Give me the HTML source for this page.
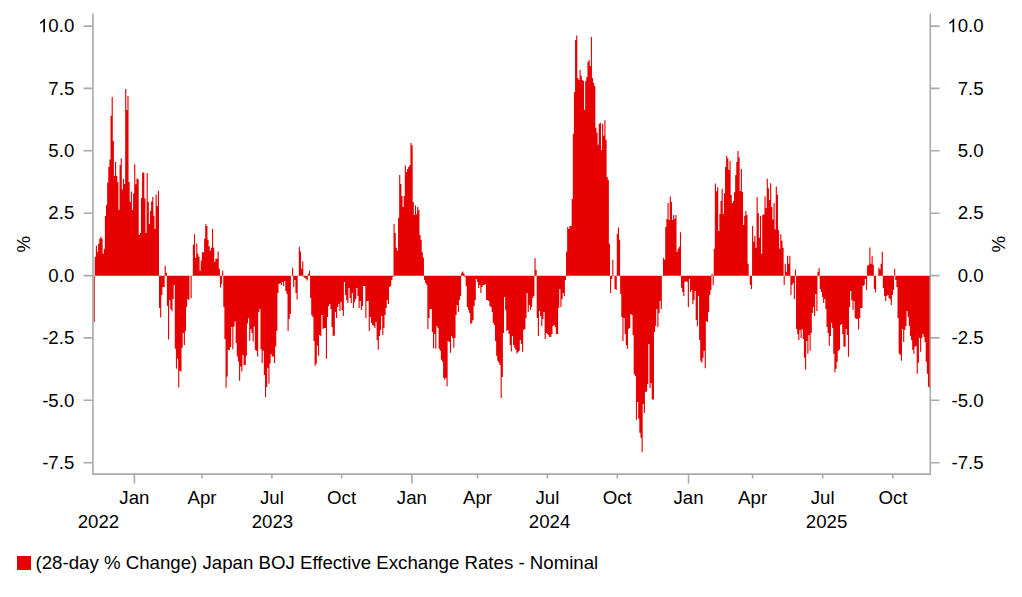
<!DOCTYPE html><html><head><meta charset="utf-8"><style>html,body{margin:0;padding:0;background:#fff}svg{display:block}text{font-family:"Liberation Sans",sans-serif;font-size:18.67px;fill:#000}</style></head><body>
<svg width="1022" height="597" viewBox="0 0 1022 597">
<rect width="1022" height="597" fill="#fff"/>
<path fill="#e60000" d="M93.60 275.7V321.9H94.73V256.8H95.85V245.8H96.98V251.8H98.11V243.8H99.24V238.8H100.36V236.8H101.49V238.8H102.62V253.8H103.75V248.8H104.88V215.9H106.00V205.0H107.13V182.5H108.26V167.0H109.38V159.5H110.51V115.8H111.64V97.0H112.77V141.0H113.89V176.0H115.02V162.0H116.15V175.7H117.28V182.0H118.41V210.0H119.53V165.0H120.66V158.3H121.79V189.5H122.91V179.0H124.04V184.0H125.17V89.0H126.30V110.0H127.42V96.0H128.55V182.0H129.68V202.0H130.81V191.5H131.94V210.0H133.06V193.6H134.19V164.3H135.32V184.3H136.44V178.6H137.57V179.3H138.70V234.9H139.83V232.9H140.95V197.9H142.08V172.6H143.21V172.6H144.34V198.6H145.46V232.9H146.59V172.9H147.72V202.0H148.85V223.9H149.97V211.0H151.10V201.4H152.23V197.0H153.36V215.9H154.48V228.9H155.61V194.5H156.74V206.0H157.87V190.8H159.00V307.9H160.12V317.5H161.25V295.0H162.38V287.0H163.50V287.0H164.63V265.8H165.76V272.8H166.89V305.9H168.01V339.5H169.14V299.9H170.27V308.9H171.40V310.9H172.52V298.9H173.65V285.0H174.78V348.8H175.91V368.8H177.03V358.8H178.16V387.4H179.29V370.8H180.42V371.4H181.54V347.8H182.67V332.9H183.80V344.9H184.93V330.9H186.06V306.9H187.18V298.9H188.31V299.9H189.44V275.6H190.56V298.3H191.69V275.6H192.82V244.8H193.95V234.3H195.07V257.8H196.20V243.4H197.33V253.8H198.46V256.8H199.58V270.8H200.71V260.8H201.84V252.2H202.97V252.2H204.09V238.8H205.22V224.3H206.35V225.9H207.48V239.8H208.60V246.2H209.73V250.8H210.86V247.8H211.99V228.9H213.12V247.8H214.24V261.8H215.37V258.8H216.50V258.8H217.62V251.4H218.75V268.8H219.88V287.5H221.01V284.0H222.13V270.8H223.26V306.9H224.39V338.9H225.52V387.8H226.64V376.4H227.77V350.0H228.90V350.0H230.03V347.0H231.16V327.0H232.28V349.3H233.41V326.4H234.54V321.4H235.66V342.9H236.79V356.4H237.92V361.4H239.05V380.7H240.17V366.4H241.30V371.4H242.43V355.0H243.56V365.0H244.68V365.0H245.81V355.7H246.94V323.6H248.07V318.0H249.19V340.7H250.32V329.3H251.45V332.9H252.58V341.4H253.70V326.4H254.83V350.0H255.96V350.7H257.09V356.4H258.21V312.0H259.34V309.0H260.47V349.3H261.60V362.9H262.73V350.7H263.85V375.0H264.98V397.1H266.11V387.1H267.24V367.9H268.36V383.6H269.49V363.6H270.62V354.3H271.75V356.4H272.87V356.4H274.00V362.9H275.13V346.4H276.25V330.7H277.38V293.0H278.51V284.0H279.64V283.0H280.76V285.0H281.89V282.0H283.02V286.0H284.15V281.0H285.27V291.0H286.40V294.0H287.53V330.9H288.66V318.9H289.78V313.9H290.91V275.6H292.04V267.8H293.17V287.0H294.29V280.0H295.42V293.0H296.55V299.5H297.68V276.0H298.80V246.8H299.93V251.4H301.06V268.8H302.19V261.4H303.31V277.0H304.44V278.0H305.57V279.0H306.70V280.4H307.82V273.8H308.95V270.8H310.08V297.9H311.21V314.9H312.33V316.9H313.46V340.9H314.59V365.8H315.72V363.8H316.84V345.8H317.97V355.8H319.10V334.9H320.23V335.9H321.36V314.9H322.48V328.9H323.61V327.9H324.74V327.9H325.87V358.8H326.99V316.9H328.12V305.9H329.25V303.9H330.38V308.9H331.50V326.9H332.63V335.9H333.76V335.5H334.88V311.9H336.01V317.9H337.14V306.9H338.27V303.9H339.39V310.9H340.52V301.9H341.65V309.9H342.78V315.9H343.90V282.0H345.03V295.0H346.16V299.9H347.29V302.9H348.41V288.0H349.54V297.9H350.67V302.9H351.80V293.0H352.92V307.9H354.05V301.9H355.18V298.9H356.31V288.0H357.43V295.9H358.56V307.9H359.69V300.9H360.82V309.9H361.94V305.9H363.07V286.0H364.20V286.0H365.33V317.9H366.45V300.9H367.58V300.9H368.71V330.9H369.84V316.9H370.97V322.9H372.09V324.9H373.22V325.9H374.35V327.9H375.48V321.9H376.60V339.9H377.73V349.8H378.86V335.9H379.99V329.9H381.11V315.9H382.24V334.9H383.37V327.9H384.50V314.9H385.62V307.9H386.75V299.9H387.88V303.9H389.00V287.0H390.13V286.0H391.26V280.0H392.39V277.0H393.51V223.9H394.64V232.9H395.77V247.8H396.90V250.8H398.02V217.9H399.15V175.0H400.28V184.0H401.41V195.9H402.53V206.9H403.66V195.9H404.79V165.6H405.92V172.0H407.04V169.0H408.17V167.0H409.30V165.0H410.43V142.9H411.55V145.3H412.68V201.9H413.81V214.9H414.94V205.5H416.06V214.3H417.19V206.9H418.32V209.9H419.45V234.9H420.57V239.8H421.70V252.2H422.83V257.8H423.96V280.0H425.08V283.0H426.21V285.0H427.34V328.9H428.47V317.9H429.60V308.9H430.72V308.9H431.85V331.9H432.98V348.2H434.11V333.9H435.23V348.8H436.36V325.9H437.49V327.9H438.62V348.8H439.74V350.8H440.87V359.8H442.00V361.8H443.12V377.8H444.25V379.8H445.38V377.8H446.51V386.2H447.63V340.9H448.76V341.9H449.89V352.8H451.02V335.9H452.14V337.9H453.27V347.8H454.40V337.9H455.53V314.9H456.65V304.9H457.78V311.9H458.91V299.9H460.04V295.9H461.16V272.8H462.29V271.4H463.42V273.8H464.55V277.0H465.67V286.0H466.80V306.9H467.93V309.9H469.06V312.9H470.18V323.9H471.31V322.9H472.44V319.9H473.57V305.9H474.69V299.9H475.82V279.0H476.95V282.0H478.08V288.0H479.20V285.0H480.33V293.0H481.46V287.0H482.59V285.0H483.72V285.0H484.84V284.0H485.97V299.9H487.10V299.9H488.23V300.9H489.35V305.9H490.48V306.9H491.61V311.9H492.74V322.9H493.86V324.9H494.99V340.9H496.12V355.8H497.25V360.8H498.37V362.8H499.50V365.0H500.63V397.9H501.75V376.9H502.88V332.9H504.01V297.0H505.14V310.0H506.26V330.9H507.39V329.9H508.52V333.9H509.65V344.9H510.77V351.4H511.90V335.9H513.03V344.9H514.16V347.8H515.28V349.8H516.41V353.4H517.54V352.2H518.67V350.8H519.79V339.9H520.92V343.9H522.05V351.8H523.18V329.9H524.30V328.9H525.43V317.9H526.56V293.0H527.69V311.9H528.81V304.9H529.94V309.9H531.07V306.9H532.20V297.9H533.32V295.9H534.45V258.2H535.58V270.0H536.71V317.9H537.83V335.9H538.96V310.9H540.09V315.9H541.22V325.9H542.35V318.9H543.47V311.9H544.60V338.9H545.73V332.9H546.86V333.9H547.98V334.9H549.11V336.9H550.24V336.9H551.37V333.9H552.49V325.9H553.62V324.9H554.75V326.9H555.88V333.9H557.00V333.9H558.13V307.9H559.26V289.0H560.38V306.9H561.51V298.9H562.64V293.0H563.77V295.9H564.89V280.0H566.02V251.8H567.15V226.9H568.28V228.9H569.40V225.9H570.53V225.9H571.66V198.9H572.79V133.8H573.91V91.9H575.04V40.0H576.17V35.6H577.30V77.9H578.42V79.9H579.55V70.0H580.68V75.7H581.81V80.0H582.93V80.9H584.06V109.8H585.19V80.9H586.32V76.9H587.44V61.9H588.57V59.9H589.70V66.0H590.83V37.0H591.95V77.9H593.08V82.9H594.21V85.9H595.34V127.8H596.46V132.8H597.59V144.8H598.72V123.8H599.85V122.8H600.98V150.0H602.10V123.8H603.23V135.8H604.36V120.2H605.49V139.8H606.61V177.0H607.74V180.0H608.87V243.8H610.00V293.0H611.12V279.0H612.25V259.8H613.38V275.6H614.50V289.0H615.63V290.0H616.76V233.9H617.89V227.5H619.01V239.8H620.14V294.0H621.27V316.9H622.40V340.9H623.52V317.9H624.65V333.9H625.78V344.9H626.91V348.8H628.03V328.9H629.16V327.9H630.29V313.9H631.42V314.9H632.54V334.9H633.67V373.9H634.80V375.9H635.93V419.8H637.05V401.9H638.18V418.8H639.31V432.8H640.44V437.8H641.56V452.2H642.69V403.9H643.82V412.9H644.95V391.9H646.08V391.5H647.20V383.9H648.33V343.9H649.46V387.9H650.59V382.9H651.71V399.5H652.84V399.5H653.97V331.9H655.10V325.9H656.22V308.9H657.35V326.9H658.48V312.9H659.61V300.9H660.73V308.9H661.86V276.0H662.99V257.8H664.12V259.8H665.24V226.9H666.37V218.9H667.50V202.9H668.62V219.9H669.75V196.5H670.88V201.9H672.01V219.9H673.13V214.9H674.26V218.9H675.39V214.9H676.52V251.8H677.64V248.8H678.77V246.8H679.90V232.3H681.03V288.0H682.15V292.0H683.28V295.9H684.41V282.0H685.54V281.0H686.66V282.0H687.79V306.9H688.92V279.0H690.05V292.0H691.17V290.0H692.30V303.9H693.43V299.9H694.56V291.0H695.68V319.9H696.81V325.9H697.94V296.0H699.07V339.9H700.20V360.8H701.32V362.8H702.45V357.8H703.58V350.8H704.71V368.2H705.83V320.9H706.96V321.9H708.09V311.9H709.22V295.0H710.34V290.0H711.47V274.0H712.60V285.0H713.73V248.8H714.85V183.4H715.98V191.3H717.11V187.2H718.24V230.9H719.36V213.9H720.49V200.9H721.62V189.0H722.75V213.9H723.87V193.3H725.00V167.1H726.13V156.1H727.25V158.6H728.38V170.0H729.51V161.1H730.64V195.0H731.76V202.9H732.89V200.9H734.02V192.3H735.15V175.2H736.27V162.1H737.40V150.9H738.53V157.3H739.66V190.9H740.78V168.9H741.91V192.0H743.04V224.9H744.17V215.9H745.29V210.9H746.42V214.9H747.55V263.8H748.68V275.6H749.80V285.0H750.93V289.0H752.06V225.9H753.19V241.8H754.31V235.8H755.44V247.8H756.57V196.9H757.70V212.9H758.83V237.8H759.95V215.9H761.08V253.8H762.21V214.9H763.34V214.3H764.46V196.3H765.59V207.9H766.72V178.7H767.85V188.2H768.97V199.9H770.10V183.2H771.23V206.9H772.36V219.5H773.48V202.9H774.61V229.5H775.74V186.4H776.87V194.8H777.99V229.9H779.12V248.8H780.25V234.3H781.38V240.8H782.50V247.8H783.63V285.0H784.76V263.8H785.88V271.8H787.01V255.8H788.14V263.8H789.27V255.8H790.39V295.0H791.52V285.0H792.65V283.0H793.78V298.9H794.90V269.4H796.03V328.9H797.16V333.9H798.29V339.9H799.41V329.9H800.54V337.9H801.67V328.9H802.80V338.9H803.92V357.8H805.05V369.8H806.18V340.9H807.31V353.8H808.43V334.9H809.56V350.8H810.69V332.9H811.82V312.9H812.94V306.9H814.07V315.9H815.20V294.0H816.33V310.9H817.46V271.8H818.58V268.2H819.71V289.0H820.84V292.0H821.97V296.9H823.09V302.9H824.22V298.9H825.35V308.9H826.48V326.9H827.60V332.9H828.73V345.8H829.86V335.9H830.99V322.9H832.11V327.9H833.24V353.8H834.37V372.2H835.50V368.8H836.62V361.8H837.75V350.8H838.88V349.8H840.00V324.9H841.13V323.9H842.26V333.9H843.39V346.8H844.51V346.8H845.64V328.9H846.77V334.9H847.90V356.8H849.02V306.9H850.15V291.0H851.28V299.9H852.41V309.9H853.53V300.9H854.66V317.9H855.79V318.9H856.92V318.9H858.04V329.5H859.17V317.9H860.30V307.9H861.43V307.9H862.55V286.0H863.68V285.0H864.81V279.0H865.94V290.0H867.06V265.8H868.19V264.8H869.32V247.4H870.45V263.8H871.57V256.2H872.70V264.8H873.83V289.0H874.96V292.4H876.09V275.6H877.21V275.6H878.34V267.8H879.47V269.4H880.60V263.8H881.72V251.8H882.85V288.0H883.98V296.0H885.11V300.9H886.23V295.9H887.36V295.0H888.49V297.9H889.62V299.5H890.74V304.9H891.87V295.0H893.00V290.0H894.12V268.8H895.25V280.0H896.38V287.0H897.51V317.9H898.63V353.8H899.76V354.8H900.89V360.8H902.02V328.9H903.14V341.9H904.27V329.9H905.40V325.9H906.53V310.9H907.65V316.9H908.78V325.9H909.91V335.9H911.04V339.9H912.16V349.8H913.29V353.8H914.42V346.8H915.55V345.8H916.67V373.8H917.80V362.8H918.93V337.9H920.06V351.8H921.18V337.9H922.31V333.9H923.44V336.9H924.57V341.9H925.69V361.8H926.82V373.8H927.95V386.8H929.08V387.8H930.00V275.7z"/>
<g stroke="#aaaaaa" stroke-width="1.6" fill="none">
<path d="M92.95 13.5V474.1H930.3V13.5"/>
<path d="M83.5 26.1H93M930.3 26.1H939.5"/>
<path d="M83.5 88.4H93M930.3 88.4H939.5"/>
<path d="M83.5 150.8H93M930.3 150.8H939.5"/>
<path d="M83.5 213.2H93M930.3 213.2H939.5"/>
<path d="M83.5 275.6H93M930.3 275.6H939.5"/>
<path d="M83.5 337.9H93M930.3 337.9H939.5"/>
<path d="M83.5 400.3H93M930.3 400.3H939.5"/>
<path d="M83.5 462.7H93M930.3 462.7H939.5"/>
<path d="M134.4 474.1V483.5"/>
<path d="M202 474.1V478.5"/>
<path d="M271.9 474.1V478.5"/>
<path d="M341.6 474.1V478.5"/>
<path d="M411.9 474.1V483.5"/>
<path d="M477.5 474.1V478.5"/>
<path d="M547.4 474.1V478.5"/>
<path d="M617.3 474.1V478.5"/>
<path d="M688.5 474.1V483.5"/>
<path d="M752.6 474.1V478.5"/>
<path d="M822.7 474.1V478.5"/>
<path d="M892.9 474.1V478.5"/>
</g>
<path transform="translate(37.97,32.3) scale(0.009116,-0.009116)" d="M763 0H583V1147Q518 1085 412.5 1023T223 930V1104Q373 1175 485 1275T644 1474H763Z" fill="#000"/>
<text x="74.3" y="32.3" text-anchor="end">0.0</text>
<path transform="translate(947.27,32.3) scale(0.009116,-0.009116)" d="M763 0H583V1147Q518 1085 412.5 1023T223 930V1104Q373 1175 485 1275T644 1474H763Z" fill="#000"/>
<text x="983.6" y="32.3" text-anchor="end">0.0</text>
<text x="74.3" y="94.6" text-anchor="end">7.5</text>
<text x="983.6" y="94.6" text-anchor="end">7.5</text>
<text x="74.3" y="157.0" text-anchor="end">5.0</text>
<text x="983.6" y="157.0" text-anchor="end">5.0</text>
<text x="74.3" y="219.4" text-anchor="end">2.5</text>
<text x="983.6" y="219.4" text-anchor="end">2.5</text>
<text x="74.3" y="281.8" text-anchor="end">0.0</text>
<text x="983.6" y="281.8" text-anchor="end">0.0</text>
<text x="74.3" y="344.1" text-anchor="end">-2.5</text>
<text x="983.6" y="344.1" text-anchor="end">-2.5</text>
<text x="74.3" y="406.5" text-anchor="end">-5.0</text>
<text x="983.6" y="406.5" text-anchor="end">-5.0</text>
<text x="74.3" y="468.9" text-anchor="end">-7.5</text>
<text x="983.6" y="468.9" text-anchor="end">-7.5</text>
<text x="134.4" y="503.7" text-anchor="middle">Jan</text>
<text x="202" y="503.7" text-anchor="middle">Apr</text>
<text x="271.9" y="503.7" text-anchor="middle">Jul</text>
<text x="341.6" y="503.7" text-anchor="middle">Oct</text>
<text x="411.9" y="503.7" text-anchor="middle">Jan</text>
<text x="477.5" y="503.7" text-anchor="middle">Apr</text>
<text x="547.4" y="503.7" text-anchor="middle">Jul</text>
<text x="617.3" y="503.7" text-anchor="middle">Oct</text>
<text x="688.5" y="503.7" text-anchor="middle">Jan</text>
<text x="752.6" y="503.7" text-anchor="middle">Apr</text>
<text x="822.7" y="503.7" text-anchor="middle">Jul</text>
<text x="892.9" y="503.7" text-anchor="middle">Oct</text>
<text x="98.5" y="528.3" text-anchor="middle">2022</text>
<text x="272.5" y="528.3" text-anchor="middle">2023</text>
<text x="549.6" y="528.3" text-anchor="middle">2024</text>
<text x="826.6" y="528.3" text-anchor="middle">2025</text>
<text transform="translate(30.2,244.3) rotate(-90)" text-anchor="middle">%</text>
<text transform="translate(1005.3,244.3) rotate(-90)" text-anchor="middle">%</text>
<rect x="17" y="556" width="14" height="14" fill="#e60000"/>
<text x="35.5" y="569.3">(28-day % Change) Japan BOJ Effective Exchange Rates - Nominal</text>
</svg></body></html>
